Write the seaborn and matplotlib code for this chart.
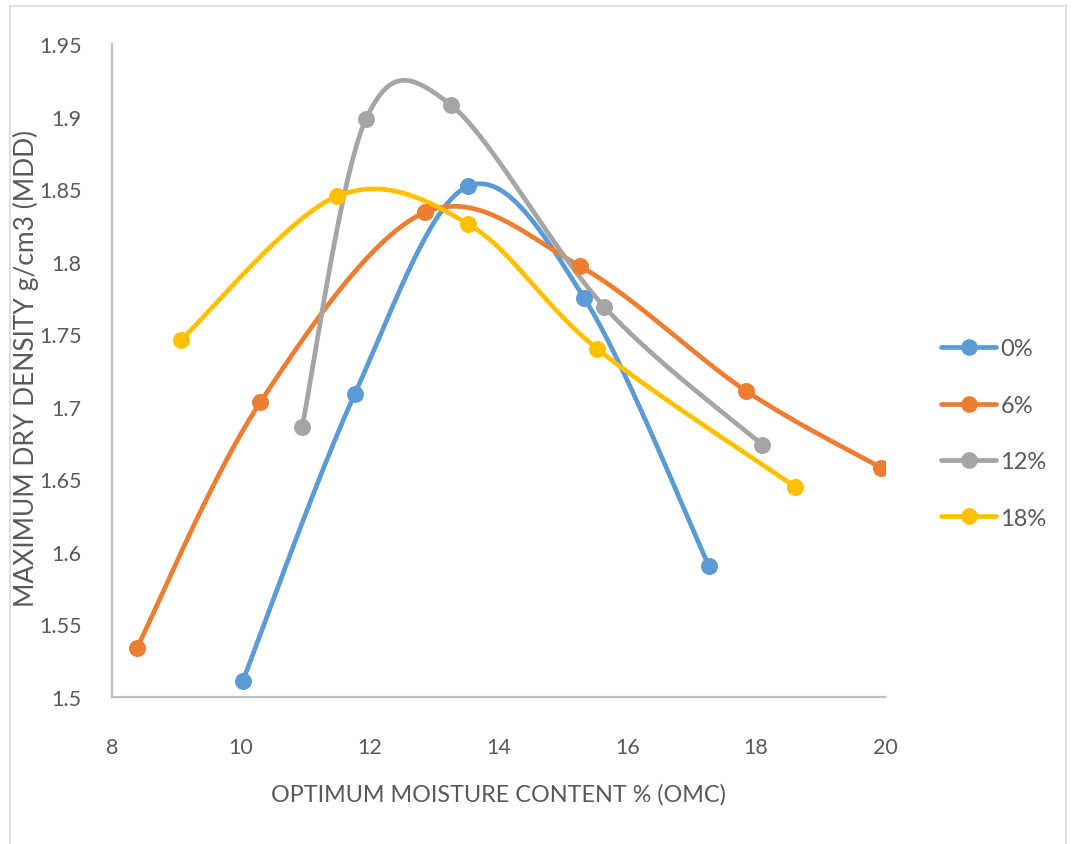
import numpy as np
import pandas as pd
import seaborn as sns
import matplotlib.pyplot as plt
from matplotlib.lines import Line2D
from matplotlib.patches import Rectangle

# Compaction results: optimum moisture content (%) vs maximum dry density (g/cm3)
series = ["0%", "6%", "12%", "18%"]
omc_0 = [10.03, 11.77, 13.53, 15.33, 17.27]
mdd_0 = [1.511, 1.709, 1.852, 1.775, 1.590]
omc_6 = [8.39, 10.30, 12.86, 15.26, 17.84, 19.94]
mdd_6 = [1.534, 1.703, 1.834, 1.797, 1.711, 1.658]
omc_12 = [10.95, 11.94, 13.26, 15.64, 18.09]
mdd_12 = [1.686, 1.898, 1.908, 1.769, 1.674]
omc_18 = [9.07, 11.49, 13.53, 15.53, 18.60]
mdd_18 = [1.746, 1.845, 1.826, 1.740, 1.645]

x_ticks = [8, 10, 12, 14, 16, 18, 20]
y_ticks = [1.5, 1.55, 1.6, 1.65, 1.7, 1.75, 1.8, 1.85, 1.9, 1.95]
y_tick_labels = ["1.5", "1.55", "1.6", "1.65", "1.7", "1.75", "1.8", "1.85", "1.9", "1.95"]

colors = ["#5B9BD5", "#ED7D31", "#A5A5A5", "#FFC000"]
text_color = "#595959"

sns.set_theme(style="white")
plt.rcParams["font.family"] = ["Lato", "DejaVu Sans"]

W, H = 1073, 845
fig = plt.figure(figsize=(W / 100, H / 100), dpi=100)
ax = fig.add_axes([112 / W, 1 - 698 / H, (885 - 112) / W, (698 - 45) / H])
ax.set_xlim(8, 20)
ax.set_ylim(1.5, 1.95)


def smooth(xs, ys, n=40, t=1 / 6):
    """Cardinal (Catmull-Rom style) Bezier smoothing done in display space."""
    pts = ax.transData.transform(np.column_stack([xs, ys]))
    m = len(pts)
    out = [pts[0]]
    for i in range(m - 1):
        p0 = pts[i - 1] if i > 0 else pts[i]
        p1 = pts[i]
        p2 = pts[i + 1]
        p3 = pts[i + 2] if i + 2 < m else pts[i + 1]
        c1 = p1 + (p2 - p0) * t
        c2 = p2 - (p3 - p1) * t
        s = np.linspace(0, 1, n)[1:, None]
        seg = ((1 - s) ** 3) * p1 + 3 * ((1 - s) ** 2) * s * c1 + 3 * (1 - s) * s ** 2 * c2 + s ** 3 * p2
        out.extend(seg)
    out = ax.transData.inverted().transform(np.array(out))
    return out[:, 0], out[:, 1]


data = [(omc_0, mdd_0), (omc_6, mdd_6), (omc_12, mdd_12), (omc_18, mdd_18)]
for name, (xs, ys), c in zip(series, data, colors):
    sx, sy = smooth(xs, ys)
    curve = pd.DataFrame({"OMC": sx, "MDD": sy})
    sns.lineplot(data=curve, x="OMC", y="MDD", sort=False, estimator=None,
                 color=c, linewidth=3.4, ax=ax, solid_capstyle="round")
    pts = pd.DataFrame({"OMC": xs, "MDD": ys})
    sns.scatterplot(data=pts, x="OMC", y="MDD", color=c, s=150, linewidth=0,
                    ax=ax, zorder=5)

ax.set_xlim(8, 20)
ax.set_ylim(1.5, 1.95)
ax.set_xticks(x_ticks)
ax.set_yticks(y_ticks)
ax.set_yticklabels(y_tick_labels)
ax.tick_params(axis="both", length=0, labelsize=15.5, labelcolor=text_color)
ax.tick_params(axis="x", pad=29)
ax.tick_params(axis="y", pad=22)

for side in ["top", "right"]:
    ax.spines[side].set_visible(False)
for side in ["left", "bottom"]:
    ax.spines[side].set_color("#BFBFBF")
    ax.spines[side].set_linewidth(1.6)

ax.set_xlabel("")
ax.set_ylabel("")
fig.text(498 / W, 1 - 795 / H, "OPTIMUM MOISTURE CONTENT % (OMC)",
         ha="center", va="center", fontsize=16.8, color=text_color)
fig.text(26 / W, 1 - 368 / H, "MAXIMUM DRY DENSITY g/cm3 (MDD)",
         ha="center", va="center", rotation=90, fontsize=19, color=text_color)

handles = [Line2D([0], [0], color=c, linewidth=3.4, marker="o", markersize=12,
                  markeredgewidth=0) for c in colors]
fig.legend(handles, series, loc="upper left", bbox_to_anchor=(932 / W, 1 - 330 / H),
           frameon=False, fontsize=17, labelcolor=text_color, handlelength=2.3,
           handletextpad=0.2, labelspacing=1.5, borderaxespad=0)

fig.add_artist(Rectangle((10 / W, -0.05), (1066 - 10) / W, 1.05 - 7 / H,
                         transform=fig.transFigure, fill=False,
                         edgecolor="#D9D9D9", linewidth=1.2))

fig.savefig("out.png", dpi=100)
